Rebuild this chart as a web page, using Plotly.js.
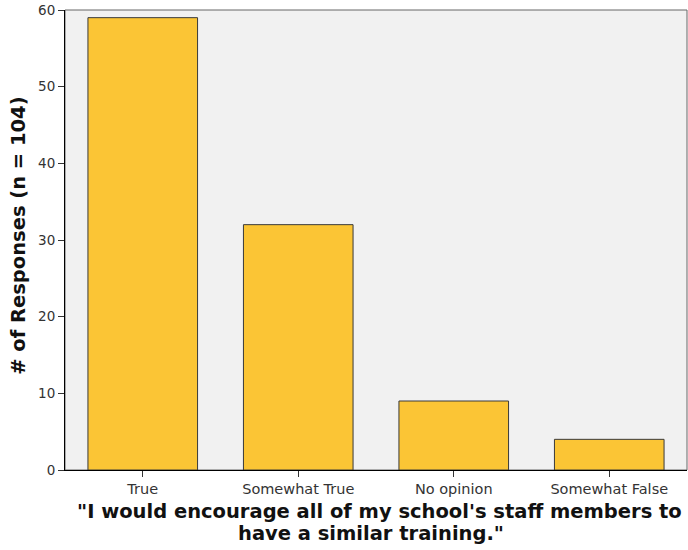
<!DOCTYPE html>
<html>
<head>
<meta charset="utf-8">
<script src="https://cdn.plot.ly/plotly-3.0.1.min.js"></script>
<style>html,body{margin:0;padding:0;background:#fff;}#chart{width:688px;height:550px;}</style>
</head>
<body>
<div id="chart"></div>
<script>
const categories = ["True", "Somewhat True", "No opinion", "Somewhat False"];
const responses = [59, 32, 9, 4];
const yTicks = [0, 10, 20, 30, 40, 50, 60];
const xTitleLines = ["\"I would encourage all of my school's staff members to", "have a similar training.\""];
const yTitle = "# of Responses (n = 104)";

const trace = {
  type: "bar",
  x: categories,
  y: responses,
  width: 0.705,
  marker: { color: "#FBC535", line: { color: "#3a3a3a", width: 1 } },
  hoverinfo: "x+y"
};

const titleFont = { family: "DejaVu Sans, sans-serif", size: 19.5, color: "#111", weight: "bold" };

const layout = {
  width: 688,
  height: 550,
  margin: { l: 65, r: 1, t: 10, b: 80 },
  paper_bgcolor: "#ffffff",
  plot_bgcolor: "#f1f1f1",
  font: { family: "DejaVu Sans, sans-serif", color: "#222" },
  showlegend: false,
  xaxis: {
    type: "category",
    range: [-0.5, 3.5],
    showgrid: false,
    zeroline: false,
    showline: true,
    linecolor: "#000",
    linewidth: 1,
    ticks: "outside",
    ticklen: 6,
    tickcolor: "#333",
    tickfont: { size: 14.5, color: "#333" }
  },
  yaxis: {
    range: [0, 60],
    tickvals: yTicks,
    showgrid: false,
    zeroline: false,
    showline: true,
    linecolor: "#000",
    linewidth: 1,
    ticks: "outside",
    ticklen: 6,
    tickcolor: "#333",
    tickfont: { size: 13.5, color: "#333" }
  },
  annotations: [
    { text: "<b>" + xTitleLines[0] + "</b>", xref: "paper", yref: "paper",
      x: 0.506, y: -0.0913, xanchor: "center", yanchor: "middle", showarrow: false, font: titleFont },
    { text: "<b>" + xTitleLines[1] + "</b>", xref: "paper", yref: "paper",
      x: 0.492, y: -0.137, xanchor: "center", yanchor: "middle", showarrow: false, font: titleFont },
    { text: "<b>" + yTitle + "</b>", xref: "paper", yref: "paper",
      x: -0.074, y: 0.509, xanchor: "center", yanchor: "middle", textangle: -90, showarrow: false, font: titleFont }
  ],
  shapes: [
    { type: "rect", xref: "paper", yref: "paper", x0: 0, x1: 1, y0: 0, y1: 1,
      line: { color: "#666", width: 1 }, layer: "below" }
  ]
};

Plotly.newPlot("chart", [trace], layout, { displayModeBar: false, staticPlot: true });
</script>
</body>
</html>
